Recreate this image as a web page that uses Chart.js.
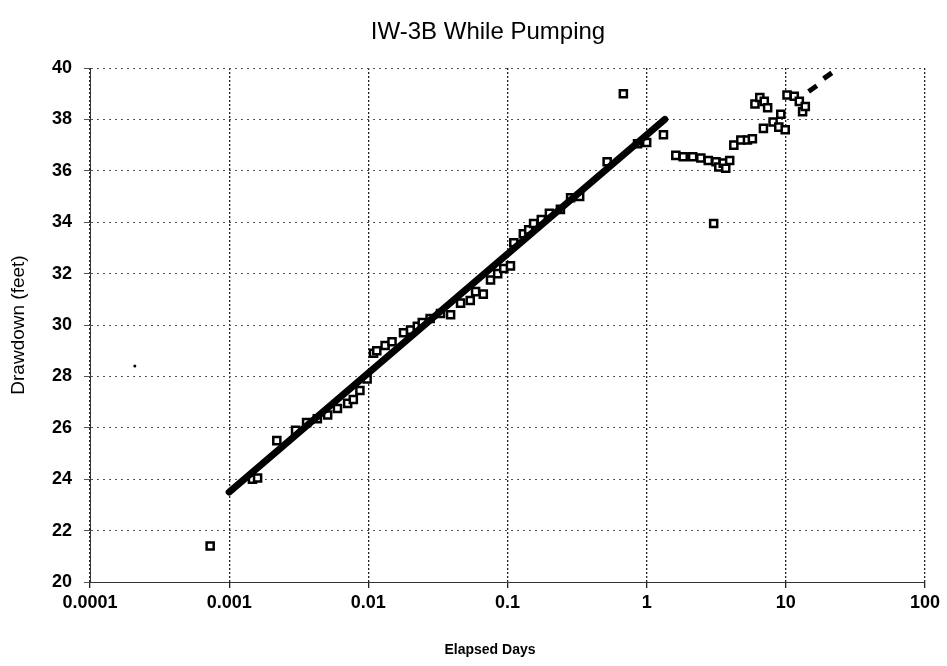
<!DOCTYPE html>
<html lang="en">
<head>
    <meta charset="UTF-8">
    <title>IW-3B While Pumping</title>
    <script src="https://cdn.jsdelivr.net/npm/chart.js"></script>
    <style>
        html, body { margin: 0; padding: 0; background: #fff; }
        #wrap { width: 947px; height: 666px; }
    </style>
</head>
<body>
    <div id="wrap"><canvas id="drawdownChart"></canvas></div>
    <script>
        // measured drawdown
        const elapsedDays = [0.00073, 0.00147, 0.0016, 0.0022, 0.0030, 0.0036, 0.0043, 0.0051, 0.0060, 0.0071,
            0.0078, 0.0087, 0.0098, 0.0109, 0.0115, 0.0132, 0.0148, 0.0179, 0.0201, 0.0225,
            0.0244, 0.0278, 0.033, 0.039, 0.046, 0.054, 0.059, 0.067, 0.0755, 0.085,
            0.094, 0.105, 0.111, 0.13, 0.142, 0.154, 0.175, 0.2, 0.24, 0.284,
            0.33, 0.52, 0.68, 0.86, 1.0, 1.32, 1.62, 1.83, 2.14, 2.45,
            2.77, 3.03, 3.15, 3.3, 3.55, 3.7, 3.95, 4.23, 4.75, 5.3,
            5.75, 6.0, 6.5, 6.9, 7.0, 7.4, 8.1, 8.9, 9.2, 9.9,
            10.2, 11.5, 12.5, 13.2, 13.8];
        const drawdownFeet = [21.4, 24.0, 24.05, 25.5, 25.9, 26.2, 26.35, 26.5, 26.75, 26.95,
            27.1, 27.45, 27.9, 28.9, 29.0, 29.2, 29.35, 29.7, 29.8, 29.95,
            30.1, 30.25, 30.45, 30.4, 30.85, 30.95, 31.3, 31.2, 31.75, 32.0,
            32.2, 32.3, 33.2, 33.55, 33.7, 33.95, 34.1, 34.35, 34.5, 34.95,
            35.0, 36.35, 39.0, 37.05, 37.1, 37.4, 36.6, 36.55, 36.55, 36.5,
            36.4, 33.95, 36.35, 36.15, 36.3, 36.1, 36.4, 37.0, 37.2, 37.2,
            37.25, 38.6, 38.85, 37.65, 38.7, 38.45, 37.9, 37.7, 38.2, 37.6,
            38.95, 38.9, 38.7, 38.3, 38.5];

        // stray early reading and the two late dashes
        const earlyDays = [0.00021];
        const earlyFeet = [28.4];
        const lateDays = [15.6, 20];
        const lateFeet = [39.2, 39.7];

        // straight-line fit
        const fitDays = [0.001, 1.35];
        const fitFeet = [23.5, 38.0];

        const xTicks = [0.0001, 0.001, 0.01, 0.1, 1, 10, 100];
        const xTickLabels = ['0.0001', '0.001', '0.01', '0.1', '1', '10', '100'];
        const yMin = 20, yMax = 40, yStep = 2;

        const chartTitle = 'IW-3B While Pumping';
        const xTitle = 'Elapsed Days';

        const toPoints = (xs, ys) => xs.map((x, i) => ({x: x, y: ys[i]}));

        // title and x-axis label sit a bit right of centre in the original
        const titles = {
            id: 'titles',
            afterDraw(chart) {
                const c = chart.ctx;
                c.save();
                c.fillStyle = '#000';
                c.textAlign = 'center';
                c.textBaseline = 'middle';
                c.font = '24px "Liberation Sans"';
                c.fillText(chartTitle, 488, 32);
                c.font = 'bold 14px "Liberation Sans"';
                c.fillText(xTitle, 490, 650);
                c.restore();
            }
        };

        const ctx = document.getElementById('drawdownChart').getContext('2d');
        new Chart(ctx, {
            type: 'scatter',
            data: {
                datasets: [
                    {
                        label: 'Fit',
                        data: toPoints(fitDays, fitFeet),
                        showLine: true,
                        borderColor: '#000',
                        borderWidth: 7,
                        pointRadius: 0,
                        borderCapStyle: 'round'
                    },
                    {
                        label: 'Drawdown',
                        data: toPoints(elapsedDays, drawdownFeet),
                        pointStyle: 'rect',
                        pointRadius: 5,
                        borderWidth: 2.5,
                        borderColor: '#000',
                        backgroundColor: '#fff'
                    },
                    {
                        label: 'Early',
                        data: toPoints(earlyDays, earlyFeet),
                        pointRadius: 1.5,
                        borderWidth: 0,
                        backgroundColor: '#000'
                    },
                    {
                        label: 'Late',
                        data: toPoints(lateDays, lateFeet),
                        pointStyle: 'line',
                        rotation: -35,
                        pointRadius: 5,
                        borderWidth: 5,
                        borderColor: '#000'
                    }
                ]
            },
            options: {
                responsive: true,
                maintainAspectRatio: false,
                animation: false,
                layout: { padding: { left: 0, right: 22, top: 68, bottom: 0 } },
                plugins: {
                    legend: { display: false },
                    tooltip: { enabled: false },
                    title: { display: false }
                },
                scales: {
                    x: {
                        type: 'logarithmic',
                        min: 0.0001,
                        max: 100,
                        afterBuildTicks: scale => { scale.ticks = xTicks.map(v => ({value: v})); },
                        afterFit: scale => { scale.height = 84; },
                        ticks: {
                            color: '#000',
                            font: { family: 'Liberation Sans', size: 18, weight: 'bold' },
                            padding: 4,
                            maxRotation: 0,
                            autoSkip: false,
                            callback: (v, i) => xTickLabels[i]
                        },
                        grid: { color: '#222', lineWidth: 1.3, tickLength: 6 },
                        border: { display: true, color: '#333', dash: [2, 2] }
                    },
                    y: {
                        min: yMin,
                        max: yMax,
                        afterFit: scale => { scale.width = 90; },
                        ticks: {
                            stepSize: yStep,
                            color: '#000',
                            font: { family: 'Liberation Sans', size: 18, weight: 'bold' },
                            padding: 12
                        },
                        grid: { color: '#555', lineWidth: 1, tickLength: 6 },
                        border: { display: true, color: '#333', dash: [2, 4] },
                        title: {
                            display: true,
                            text: 'Drawdown (feet)',
                            color: '#000',
                            font: { family: 'Liberation Sans', size: 19 },
                            padding: { top: 7, bottom: 0 }
                        }
                    }
                }
            },
            plugins: [titles]
        });
    </script>
</body>
</html>
